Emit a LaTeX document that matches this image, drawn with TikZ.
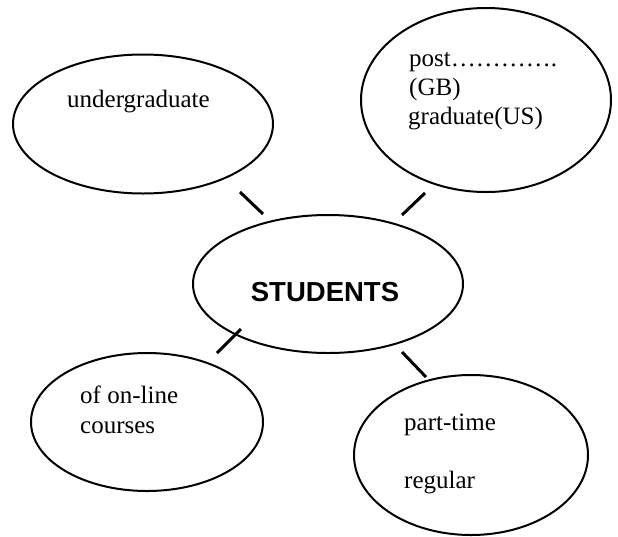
\documentclass[tikz,border=0pt]{standalone}
\usepackage{fontspec}
\setmainfont{Liberation Serif}
\newfontfamily\headfont{Liberation Sans}
\usepackage{tikz}
\usetikzlibrary{shapes.geometric,positioning}

\tikzset{
	bubble/.style={ellipse,draw,line width=2pt,inner sep=0pt},
	word/.style={anchor=base west,inner sep=0pt,font=\fontsize{25}{30}\selectfont},
	spoke/.style={line width=3pt}
}

\begin{document}
\begin{tikzpicture}[x=1pt,y=-1pt]
	\useasboundingbox (0,0) rectangle (618,536);

	\begin{scope}[every node/.style={bubble}]
		\node[minimum width=270pt,minimum height=138pt] (students) at (328,284) {};
		\node[minimum width=260pt,minimum height=139pt] (under) at (143,124) {};
		\node[minimum width=250pt,minimum height=184pt] (post) at (486,100) {};
		\node[minimum width=232pt,minimum height=138pt] (online) at (147,422) {};
		\node[minimum width=234pt,minimum height=160pt] (part) at (471,455) {};
	\end{scope}

	\node[anchor=base,inner sep=0pt,font=\headfont\bfseries\fontsize{27.5}{30}\selectfont] (title) at (325,301) {STUDENTS};

	\begin{scope}[every node/.style={word}]
		\node (ug) at (67,107) {undergraduate};
		\node (pg1) at (409,66) {post………….};
		\node (pg2) at (409,95) {(GB)};
		\node (pg3) at (408,124) {graduate(US)};
		\node (ol1) at (80,403) {of on-line};
		\node (ol2) at (80,433) {courses};
		\node (pt1) at (404,430) {part-time};
		\node (pt2) at (404,488) {regular};
	\end{scope}

	% short spokes between the bubbles
	\coordinate (ul1) at (240,192);
	\coordinate (ul2) at (263,214);
	\coordinate (ur1) at (425,193);
	\coordinate (ur2) at (402,215);
	\coordinate (ll1) at (241,329);
	\coordinate (ll2) at (217,353);
	\coordinate (lr1) at (402,352);
	\coordinate (lr2) at (426,377);

	\begin{scope}[every path/.style={spoke}]
		\draw (ul1) -- (ul2);
		\draw (ur1) -- (ur2);
		\draw (ll1) -- (ll2);
		\draw (lr1) -- (lr2);
	\end{scope}
\end{tikzpicture}
\end{document}
